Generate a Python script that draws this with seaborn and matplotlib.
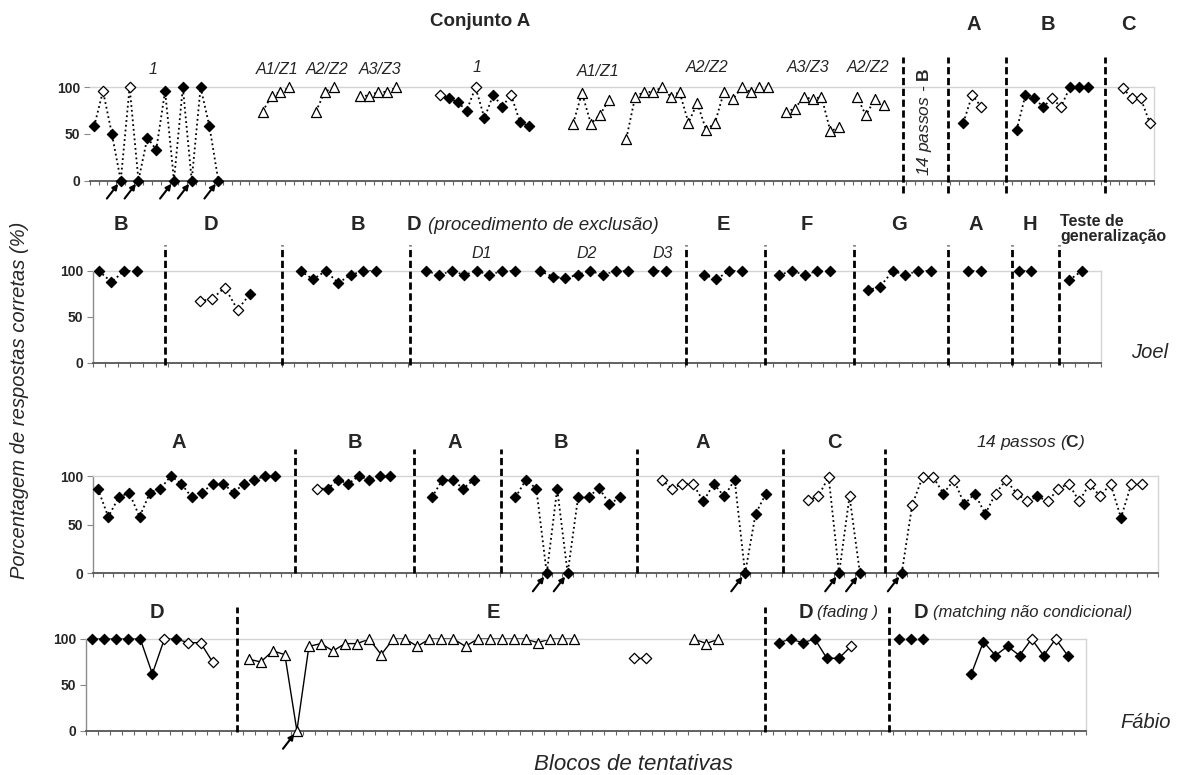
import numpy as np
import pandas as pd
import matplotlib
matplotlib.use("Agg")
import matplotlib.pyplot as plt
import seaborn as sns

# ---------------- data ----------------
# kinds: F = filled diamond, O = open diamond, T = open triangle
joel1_blocks = [*range(0, 15), *range(19, 23), *range(25, 28), *range(30, 35), *range(39, 50),
                *range(54, 59), *range(60, 77), *range(78, 85), *range(86, 90), *range(98, 101),
                *range(104, 113), *range(116, 120)]
joel1_values = [58, 96, 50, 0, 100, 0, 46, 33, 96, 0, 100, 0, 100, 58, 0,
                74, 91, 95, 100,
                74, 95, 100,
                91, 91, 95, 95, 100,
                92, 88, 84, 75, 100, 67, 92, 79, 92, 63, 58,
                61, 94, 61, 70, 86,
                45, 90, 95, 95, 100, 90, 95, 62, 83, 54, 62, 95, 87, 100, 95, 100, 100,
                74, 77, 90, 87, 90, 53, 57,
                90, 70, 87, 81,
                62, 92, 79,
                54, 92, 88, 79, 88, 79, 100, 100, 100,
                99, 88, 88, 62]
joel1_kinds = ("FOFFOFFFFFFFFFF" + "TTTT" + "TTT" + "TTTTT" + "OFFFOFFFOFF" + "TTTTT"
               + "T" * 17 + "T" * 7 + "TTTT" + "FOO" + "FFFFOOFFF" + "OOOO")
joel1_dividers = [91.2, 96.3, 102.8, 114.0]
joel1_arrows = [3, 5, 9, 11, 14]
joel1_nblocks = 120

joel2_blocks = [*range(0, 4), *range(8, 13), *range(16, 23), *range(26, 34), *range(35, 43), 44, 45,
                *range(48, 52), *range(54, 59), *range(61, 67), 69, 70, 73, 74, 77, 78]
joel2_values = [100, 88, 100, 100,
                67, 70, 82, 58, 75,
                100, 91, 100, 87, 96, 100, 100,
                100, 96, 100, 96, 100, 96, 100, 100,
                100, 94, 92, 96, 100, 96, 100, 100,
                100, 100,
                96, 91, 100, 100,
                96, 100, 96, 100, 100,
                79, 83, 100, 96, 100, 100,
                100, 100,
                100, 100,
                90, 100]
joel2_kinds = ("FFFF" + "OOOOF" + "F" * 7 + "F" * 8 + "F" * 8 + "FF" + "FFFF" + "F" * 5
               + "F" * 6 + "FF" + "FF" + "FF")
joel2_dividers = [5.28, 14.54, 24.66, 46.56, 52.87, 59.9, 67.4, 72.44, 76.19]
joel2_arrows = []
joel2_nblocks = 80

fabio1_blocks = [*range(0, 18), *range(21, 29), *range(32, 37), *range(40, 51), *range(54, 65),
                 *range(68, 74), *range(77, 101)]
fabio1_values = [87, 58, 78, 83, 58, 83, 87, 100, 92, 78, 83, 92, 92, 83, 92, 96, 100, 100,
                 87, 87, 96, 92, 100, 96, 100, 100,
                 78, 96, 96, 87, 96,
                 78, 96, 87, 0, 87, 0, 78, 78, 88, 71, 78,
                 96, 87, 92, 92, 74, 92, 79, 96, 0, 61, 82,
                 75, 79, 99, 0, 79, 0,
                 0, 70, 99, 99, 82, 96, 71, 82, 61, 82, 96, 82, 74, 79, 74, 87, 92, 74, 92, 79,
                 92, 57, 92, 92]
fabio1_kinds = ("F" * 18 + "OFFFFFFF" + "F" * 5 + "F" * 11 + "OOOOFFFFFFF" + "OOOFOF"
                + "FOOOFOFFFOOOOFOOOOOOOFOO")
fabio1_dividers = [18.9, 30.3, 38.6, 51.6, 65.6, 75.4]
fabio1_arrows = [43, 45, 62, 71, 73, 77]
fabio1_nblocks = 102

fabio2_blocks = [*range(0, 11), *range(13, 41), 45, 46, 50, 51, 52, *range(57, 64), 67, 68, 69,
                 *range(73, 82)]
fabio2_values = [100, 100, 100, 100, 100, 62, 100, 100, 96, 96, 75,
                 78, 75, 87, 83, 0, 92, 95, 87, 95, 95, 100, 83, 100, 100, 92, 100, 100, 100, 92,
                 100, 100, 100, 100, 100, 96, 100, 100, 100,
                 79, 79,
                 100, 95, 100,
                 96, 100, 96, 100, 79, 79, 92,
                 100, 100, 100,
                 62, 97, 82, 92, 82, 100, 82, 100, 82]
fabio2_kinds = "FFFFFFOFOOO" + "T" * 28 + "OO" + "TTT" + "FFFFFFO" + "FFF" + "FFFFFOFOF"
fabio2_dividers = [12.0, 55.9, 66.2]
fabio2_arrows = [17]
fabio2_nblocks = 83

y_ticks = [0, 50, 100]

# ---------------- style ----------------
sns.set_theme(style="white")
plt.rcParams["font.family"] = ["Liberation Sans", "DejaVu Sans"]
plt.rcParams["mathtext.fontset"] = "custom"
plt.rcParams["mathtext.rm"] = "Liberation Sans"
plt.rcParams["mathtext.it"] = "Liberation Sans:italic"
plt.rcParams["mathtext.bf"] = "Liberation Sans:bold"

W, H = 1178, 775
fig = plt.figure(figsize=(W / 100, H / 100), dpi=100)
fig.patch.set_facecolor("white")


def axes_px(left, right, top, bottom):
    return fig.add_axes([left / W, 1 - bottom / H, (right - left) / W, (bottom - top) / H])


MARK = {
    "F": dict(marker="D", s=28, color="black", edgecolor="black", linewidth=0.8),
    "O": dict(marker="D", s=28, color="white", edgecolor="black", linewidth=0.9),
    "T": dict(marker="^", s=52, color="white", edgecolor="black", linewidth=0.9),
}


def draw_panel(ax, blocks, values, kinds, nblocks, dividers, arrows, lstyle, lw, dash_ext,
               show_left=True):
    df = pd.DataFrame({"bloco": blocks, "pct": values, "tipo": list(kinds)})
    df["run"] = (df["bloco"].diff() != 1).cumsum()
    sns.lineplot(data=df, x="bloco", y="pct", units="run", estimator=None, sort=False,
                 color="black", linewidth=lw, linestyle=lstyle, ax=ax, legend=False,
                 clip_on=False, zorder=2)
    for k, spec in MARK.items():
        sub = df[df["tipo"] == k]
        if len(sub):
            sns.scatterplot(data=sub, x="bloco", y="pct", ax=ax, legend=False,
                            clip_on=False, zorder=4, **spec)
    for d in dividers:
        ax.axvline(d, ymin=dash_ext[0], ymax=dash_ext[1], color="black", lw=2.0,
                   ls=(0, (2.6, 1.3)), clip_on=False, zorder=5)
    for a in arrows:
        ax.annotate("", xy=(a, 0), xytext=(-10, -13), textcoords="offset points",
                    arrowprops=dict(arrowstyle="-|>", color="black", lw=1.5,
                                    mutation_scale=8, shrinkA=0, shrinkB=3),
                    annotation_clip=False, zorder=6)
    ax.set_xlim(-0.5, nblocks - 0.5)
    ax.set_ylim(0, 100)
    ax.set_xticks(np.arange(-0.5, nblocks, 1))
    ax.set_xticklabels([])
    ax.set_yticks(y_ticks)
    ax.set_yticklabels([str(t) for t in y_ticks], fontsize=10, fontweight="bold")
    ax.set_xlabel("")
    ax.set_ylabel("")
    ax.tick_params(axis="x", length=3, width=0.8, color="#666666", direction="out", pad=1,
                   bottom=True)
    ax.tick_params(axis="y", length=4, width=0.8, color="#888888", direction="out", pad=3,
                   left=True)
    for side in ("top", "right"):
        ax.spines[side].set_color("#d4d4d4")
        ax.spines[side].set_linewidth(1.0)
    ax.spines["left"].set_color("#8c8c8c")
    ax.spines["left"].set_linewidth(1.0)
    ax.spines["left"].set_visible(show_left)
    ax.spines["bottom"].set_color("#555555")
    ax.spines["bottom"].set_linewidth(1.3)
    ax.set_facecolor("none")


ax1 = axes_px(89.7, 1154.1, 87.3, 180.5)
draw_panel(ax1, joel1_blocks, joel1_values, joel1_kinds, joel1_nblocks, joel1_dividers,
           joel1_arrows, ":", 1.3, (-0.13, 1.32), show_left=False)
ax2 = axes_px(92.6, 1100.6, 271, 363)
draw_panel(ax2, joel2_blocks, joel2_values, joel2_kinds, joel2_nblocks, joel2_dividers,
           joel2_arrows, ":", 1.3, (-0.02, 1.28))
ax3 = axes_px(92.6, 1157.5, 476, 573.3)
draw_panel(ax3, fabio1_blocks, fabio1_values, fabio1_kinds, fabio1_nblocks, fabio1_dividers,
           fabio1_arrows, ":", 1.3, (0.0, 1.28))
ax4 = axes_px(86.1, 1085.8, 639, 730.7)
draw_panel(ax4, fabio2_blocks, fabio2_values, fabio2_kinds, fabio2_nblocks, fabio2_dividers,
           fabio2_arrows, "-", 1.0, (-0.01, 1.35))


def ft(x, y, s, size, weight="normal", style="normal", ha="center", va="center", **kw):
    fig.text(x / W, 1 - y / H, s, fontsize=size, fontweight=weight, fontstyle=style,
             ha=ha, va=va, **kw)


BIG = 14.5
SUB = 11.5
# panel 1 labels
ft(480, 22, "Conjunto A", 13.5, weight="bold")
for x, s in [(974, "A"), (1048, "B"), (1128, "C")]:
    ft(x, 24, s, BIG, weight="bold")
for x, y, s in [(153, 69, "1"), (277, 69, "A1/Z1"), (327, 69, "A2/Z2"), (380, 69, "A3/Z3"),
                (477, 68, "1"), (598, 71, "A1/Z1"), (707, 68, "A2/Z2"), (808, 67, "A3/Z3"),
                (868, 67, "A2/Z2")]:
    ft(x, y, s, SUB, style="italic")
ft(925, 122, r"14 passos - $\mathbf{B}$", 12.5, style="italic", rotation=90)

# panel 2 labels
for x, s in [(121, "B"), (211, "D"), (358, "B"), (414, "D"), (723, "E"), (807, "F"),
             (899, "G"), (976, "A"), (1030, "H")]:
    ft(x, 225, s, BIG, weight="bold")
ft(428, 226, "(procedimento de exclusão)", 13.5, style="italic", ha="left")
for x, s in [(482, "D1"), (587, "D2"), (663, "D3")]:
    ft(x, 253, s, SUB, style="italic")
ft(1060, 229, "Teste de\ngeneralização", 11.5, weight="bold", ha="left", linespacing=1.0)
ft(1150, 352, "Joel", 14.5, style="italic")

# panel 3 labels
for x, s in [(179, "A"), (355, "B"), (455, "A"), (561, "B"), (703, "A"), (834, "C")]:
    ft(x, 442, s, BIG, weight="bold")
ft(1031, 442, r"14 passos ($\mathbf{C}$)", 12.5, style="italic")

# panel 4 labels
for x, s in [(157, "D"), (493, "E"), (806, "D"), (921, "D")]:
    ft(x, 612, s, BIG, weight="bold")
ft(817, 613, "(fading )", 12, style="italic", ha="left")
ft(933, 613, "(matching não condicional)", 12, style="italic", ha="left")
ft(1146, 722, "Fábio", 14.5, style="italic")

ft(634, 765, "Blocos de tentativas", 16, style="italic")
ft(20, 400, "Porcentagem de respostas corretas (%)", 14.5, style="italic", rotation=90)

fig.savefig("out.png", dpi=100, facecolor="white")
